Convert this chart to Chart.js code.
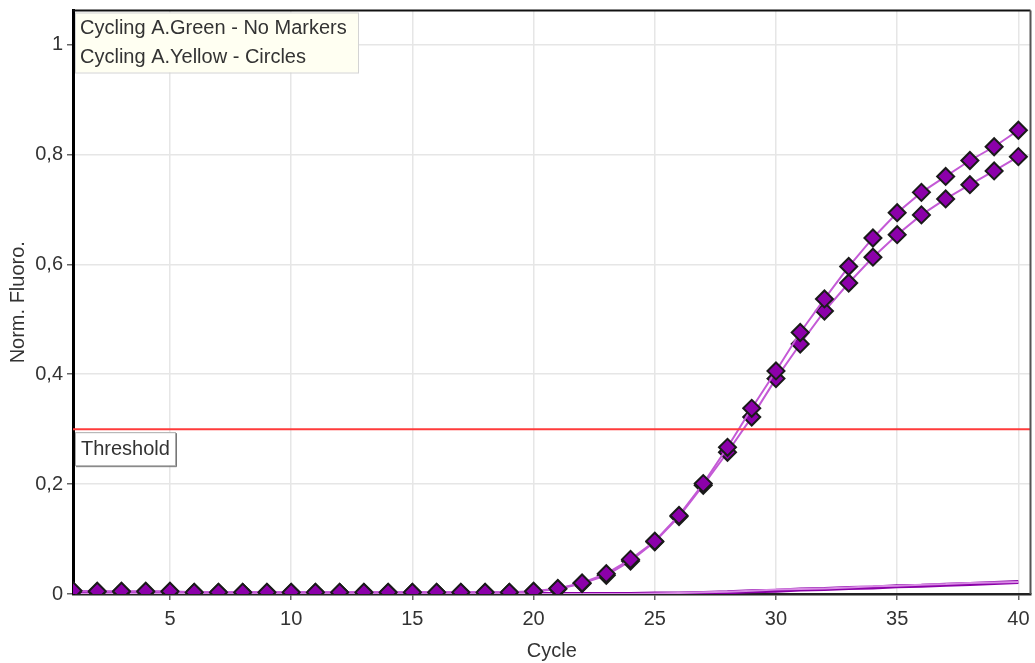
<!DOCTYPE html>
<html>
<head>
<meta charset="utf-8">
<script src="https://cdn.jsdelivr.net/npm/chart.js@4/dist/chart.umd.min.js"></script>
<style>
html,body{margin:0;background:#fff;overflow:hidden}
#wrap{width:1035px;height:663px;overflow:hidden}
</style>
</head>
<body>
<div id="wrap"><canvas id="amp" width="1041" height="663"></canvas></div>
<script>
const cycles = [1,2,3,4,5,6,7,8,9,10,11,12,13,14,15,16,17,18,19,20,21,22,23,24,25,26,27,28,29,30,31,32,33,34,35,36,37,38,39,40]

// Cycling A.Yellow (two samples, drawn with markers)
const yellowA = [0.006,0.005,0.005,0.005,0.005,0.003,0.003,0.003,0.003,0.003,0.003,0.003,0.003,0.003,0.003,0.003,0.003,0.003,0.003,0.005,0.010,0.020,0.037,0.063,0.096,0.143,0.201,0.267,0.338,0.406,0.476,0.537,0.596,0.648,0.694,0.731,0.760,0.789,0.814,0.844]
const yellowB = [0.005,0.004,0.004,0.004,0.004,0.003,0.003,0.003,0.003,0.003,0.003,0.003,0.003,0.003,0.003,0.003,0.003,0.003,0.003,0.004,0.009,0.019,0.034,0.060,0.095,0.141,0.198,0.258,0.322,0.392,0.455,0.515,0.566,0.613,0.654,0.690,0.719,0.745,0.770,0.796]

// Cycling A.Green (no markers)
const greenA = [0,0,0,0,0,0,0,0,0,0,0,0,0,0,0,0,0,0,0,0,0,0,0,0,0.001,0.001,0.002,0.003,0.005,0.006,0.008,0.009,0.011,0.012,0.014,0.015,0.017,0.018,0.020,0.022]
const greenB = [0,0,0,0,0,0,0,0,0,0,0,0,0,0,0,0,0,0,0,0,0,0,0,0,0.001,0.002,0.003,0.004,0.006,0.008,0.009,0.010,0.012,0.014,0.015,0.017,0.018,0.020,0.021,0.022]

const threshold = 0.3

const xTicks = [5,10,15,20,25,30,35,40]
const yTicks = [0,0.2,0.4,0.6,0.8,1]

const legendLines = ["Cycling A.Green - No Markers","Cycling A.Yellow - Circles"]

const FONT = "'Liberation Sans', Arial, sans-serif"

function pts(values){
  return cycles.map((c,i)=>({x:c,y:values[i]}))
}

// no extra room for edge labels, plot area comes from layout.padding only
function noEdgePadding(s){
  s.paddingLeft = 0
  s.paddingRight = 0
  s.paddingTop = 0
  s.paddingBottom = 0
}

const overlay = {
  id:'overlay',
  afterDraw(chart){
    const ctx = chart.ctx
    const a = chart.chartArea
    ctx.save()

    // frame top / right
    ctx.lineWidth = 2
    ctx.strokeStyle = '#111'
    ctx.beginPath(); ctx.moveTo(a.left, a.top); ctx.lineTo(a.right, a.top); ctx.stroke()
    ctx.strokeStyle = '#555'
    ctx.beginPath(); ctx.moveTo(a.right, a.top); ctx.lineTo(a.right, a.bottom); ctx.stroke()

    ctx.font = '20px ' + FONT
    ctx.textBaseline = 'middle'

    // series legend box
    ctx.fillStyle = '#fffff2'
    ctx.fillRect(a.left + 2, a.top + 2, 283, 60)
    ctx.strokeStyle = '#d4d4d4'
    ctx.lineWidth = 1
    ctx.strokeRect(a.left + 2.5, a.top + 2.5, 283, 60)
    ctx.fillStyle = '#333'
    legendLines.forEach((t,i)=>{
      ctx.fillText(t, a.left + 7, a.top + 18 + i*29)
    })

    // threshold label
    const ty = chart.scales.y.getPixelForValue(threshold)
    ctx.fillStyle = '#fff'
    ctx.fillRect(a.left + 2, ty + 3, 100, 33)
    ctx.strokeStyle = '#aaa'
    ctx.strokeRect(a.left + 2.5, ty + 3.5, 100, 33)
    ctx.strokeStyle = '#777'
    ctx.beginPath()
    ctx.moveTo(a.left + 103.5, ty + 4); ctx.lineTo(a.left + 103.5, ty + 37.5); ctx.lineTo(a.left + 3, ty + 37.5)
    ctx.stroke()
    ctx.fillStyle = '#333'
    ctx.fillText('Threshold', a.left + 8, ty + 20)

    ctx.restore()
  }
}

Chart.defaults.font.family = FONT
Chart.defaults.font.size = 20
Chart.defaults.color = '#333'

const markerStyle = {
  borderColor:'#c45ad6',
  borderWidth:2,
  pointStyle:'rectRot',
  pointRadius:8.5,
  pointBackgroundColor:'#8c00aa',
  pointBorderColor:'#1a1a1a',
  pointBorderWidth:2,
  tension:0
}

new Chart(document.getElementById('amp'),{
  type:'line',
  data:{
    datasets:[
      {label:'Threshold', data:[{x:1,y:threshold},{x:40.5,y:threshold}], borderColor:'#ff3b3b', borderWidth:2, pointRadius:0},
      Object.assign({label:'Yellow A', data:pts(yellowA)}, markerStyle),
      Object.assign({label:'Yellow B', data:pts(yellowB)}, markerStyle),
      {label:'Green B', data:pts(greenB), borderColor:'#d88ae4', borderWidth:2, pointRadius:0},
      {label:'Green A', data:pts(greenA), borderColor:'#8a00a8', borderWidth:4, pointRadius:0}
    ]
  },
  options:{
    responsive:false,
    animation:false,
    devicePixelRatio:1,
    layout:{padding:{left:0,right:5,top:10,bottom:0}},
    plugins:{legend:{display:false},tooltip:{enabled:false}},
    scales:{
      x:{
        type:'linear',
        min:1,
        max:40.5,
        afterBuildTicks(s){ s.ticks = xTicks.map(v=>({value:v})) },
        afterFit(s){ s.height = 69; noEdgePadding(s) },
        grid:{color:'#e6e6e6',lineWidth:1.5,tickLength:6,tickColor:'#666'},
        border:{color:'#222',width:2.5},
        ticks:{padding:7,maxRotation:0,color:'#333'},
        title:{display:true,text:'Cycle',padding:{top:0,bottom:0},color:'#333'}
      },
      y:{
        min:0,
        max:1.062,
        afterBuildTicks(s){ s.ticks = yTicks.map(v=>({value:v})) },
        afterFit(s){ s.width = 73; noEdgePadding(s) },
        grid:{color:'#e6e6e6',lineWidth:1.5,tickLength:6,tickColor:'#666'},
        border:{color:'#000',width:3},
        ticks:{padding:4,color:'#333',callback:v=>String(v).replace('.',',')},
        title:{display:true,text:'Norm. Fluoro.',padding:{top:6,bottom:0},color:'#333'}
      }
    }
  },
  plugins:[overlay]
})
</script>
</body>
</html>
